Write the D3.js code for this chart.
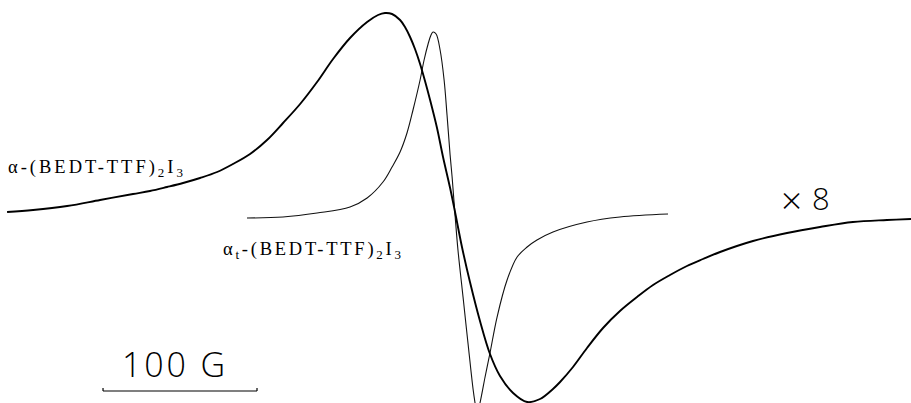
<!DOCTYPE html>
<html>
<head>
<meta charset="utf-8">
<script src="https://cdn.jsdelivr.net/npm/d3@7"></script>
<style>
  html, body { margin: 0; padding: 0; background: #fff; }
  svg { display: block; }
</style>
</head>
<body>
<svg id="chart" width="911" height="403"></svg>
<script>
// Magnetic field (G, relative to the common zero crossing) for the broad alpha-phase signal
const broadField = [-290.9,-274.0,-251.9,-230.5,-209.1,-198.1,-187.0,-176.6,-165.6,-154.5,-144.2,-133.1,-122.1,-111.7,-100.6,-89.6,-79.2,-68.2,-57.1,-50.0,-45.5,-40.9,-35.7,-32.5,-29.2,-26.0,-22.7,-19.5,-16.2,-11.7,-7.8,-3.2,0,4.5,9.7,16.2,22.7,29.2,37.7,46.8,55.2,63.6,68.2,76.6,85.7,96.1,107.1,118.2,128.6,139.6,150.6,161.0,172.1,193.5,215.6,237.0,258.4,280.5,296.1];
// Derivative signal (arb. units, x8 gain) for the alpha-phase
const broadSignal = [3,5,9,15,21,24,28,32,37,43,51,61,75,92,111,133,156,177,193,200,202,201,195,188,178,166,151,134,115,87,58,27,3,-32,-67,-106,-139,-161,-178,-187,-184,-174,-167,-152,-133,-113,-96,-82,-70,-60,-51,-44,-37,-26,-18,-12,-7,-5,-4];

// Magnetic field (G) for the narrow alpha_t-phase signal
const narrowField = [-135.1,-111.7,-89.6,-68.2,-57.1,-46.8,-40.9,-35.7,-31.2,-27.3,-22.7,-20.1,-17.5,-15.6,-14.3,-12.3,-9.7,-7.1,-5.2,-3.2,-1.9,0,1.9,5.2,8.4,11.7,13.0,14.3,16.2,19.5,22.7,27.3,33.8,40.3,46.8,53.2,63.6,85.7,107.1,138.3];
// Derivative signal (arb. units) for the alpha_t-phase
const narrowSignal = [-3,-2,2,8,17,33,48,63,82,105,135,155,171,180,183,181,165,135,100,60,38,0,-35,-82,-128,-174,-188,-199,-188,-162,-138,-102,-65,-42,-32,-25,-17,-7,-2,1];

// Labels
const labelBroad = ["α-(BEDT-TTF)", "2", "I", "3"];
const labelNarrow = ["α", "t", "-(BEDT-TTF)", "2", "I", "3"];
const gainSymbol = "×";
const gainValue = "8";
const scaleLabel = "100 G";
const scaleBarStart = -228.6;   // G
const scaleBarLength = 100;     // G

const W = 911, H = 403;
const svg = d3.select("#chart");

const x = d3.scaleLinear().domain([-295.5, 296.1]).range([0, W]);
const y = d3.scaleLinear().domain([-188, 215]).range([H, 0]);

svg.append("defs").append("clipPath").attr("id", "clip")
  .append("rect").attr("x", 0).attr("y", 0).attr("width", W).attr("height", H);

const line = d3.line()
  .x(d => x(d[0]))
  .y(d => y(d[1]))
  .curve(d3.curveCatmullRom.alpha(0.5));

const g = svg.append("g").attr("clip-path", "url(#clip)");

g.append("path")
  .datum(narrowField.map((f, i) => [f, narrowSignal[i]]))
  .attr("d", line)
  .attr("fill", "none")
  .attr("stroke", "#111")
  .attr("stroke-width", 1.1);

g.append("path")
  .datum(broadField.map((f, i) => [f, broadSignal[i]]))
  .attr("d", line)
  .attr("fill", "none")
  .attr("stroke", "#000")
  .attr("stroke-width", 1.9);

// Sample labels (serif, like the printed figure)
function sampleLabel(parts, subs, xPos, yPos, width) {
  const t = svg.append("text")
    .attr("x", xPos).attr("y", yPos)
    .attr("font-family", "'Liberation Serif', 'DejaVu Serif', serif")
    .attr("font-size", 18.5)
    .attr("textLength", width)
    .attr("lengthAdjust", "spacing")
    .attr("fill", "#000");
  parts.forEach((p, i) => {
    const isSub = subs.includes(i);
    const prevSub = i > 0 && subs.includes(i - 1);
    t.append("tspan")
      .attr("dy", isSub ? 4 : (prevSub ? -4 : 0))
      .attr("font-size", isSub ? 13 : 18.5)
      .text(p);
  });
  return t;
}
sampleLabel(labelBroad, [1, 3], 8, 173, 175);
sampleLabel(labelNarrow, [1, 3, 5], 223, 255, 178);

// Gain label
const gain = svg.append("text")
  .attr("x", 781).attr("y", 210)
  .attr("font-family", "'Open Sans', 'Liberation Sans', sans-serif")
  .attr("font-weight", 300)
  .attr("fill", "#000");
gain.append("tspan").attr("font-size", 37).attr("dy", 4).text(gainSymbol);
gain.append("tspan").attr("font-size", 31).attr("x", 812).attr("dy", -4).text(gainValue);

// Scale bar
svg.append("text")
  .attr("x", 122).attr("y", 377)
  .attr("font-family", "'Open Sans', 'Liberation Sans', sans-serif")
  .attr("font-weight", 300)
  .attr("font-size", 34)
  .attr("textLength", 103)
  .attr("lengthAdjust", "spacing")
  .attr("fill", "#000")
  .text(scaleLabel);

const sb = svg.append("g").attr("stroke", "#000").attr("stroke-width", 1.2);
const x0 = x(scaleBarStart), x1 = x(scaleBarStart + scaleBarLength);
sb.append("line").attr("x1", x0).attr("x2", x1).attr("y1", 391).attr("y2", 391);
sb.append("line").attr("x1", x0).attr("x2", x0).attr("y1", 388).attr("y2", 391);
sb.append("line").attr("x1", x1).attr("x2", x1).attr("y1", 388).attr("y2", 391);
</script>
</body>
</html>
